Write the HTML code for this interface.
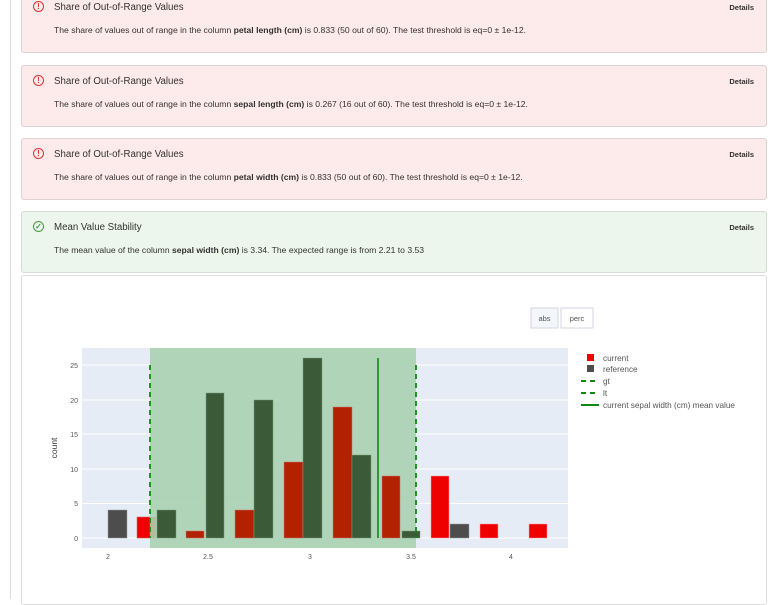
<!DOCTYPE html>
<html><head><meta charset="utf-8"><style>
*{margin:0;padding:0;box-sizing:border-box}
body{width:772px;height:599px;overflow:hidden;background:#fff;font-family:"Liberation Sans",sans-serif;position:relative;color:#333}
.vl{position:absolute;left:10px;top:0;width:1px;height:599px;background:#ddd}
.card{position:absolute;left:21px;width:746px;border:1px solid #dcd3d3;border-radius:3px}
.red{background:#fdeaea}
.grn{background:#ecf6ec;border-color:#d5dcd5}
.t{position:absolute;left:32px;font-size:9.7px;color:#333}
.b{position:absolute;left:32px;font-size:8.6px;color:#333;white-space:nowrap}
.d{position:absolute;right:12px;font-size:7.5px;font-weight:bold;color:#333}
.ic{position:absolute;left:11px;width:11px;height:11px;border:1.3px solid #d33;border-radius:50%;color:#d33;font-size:8px;font-weight:bold;text-align:center;line-height:9px}
.icg{border-color:#4a9a4a;color:#4a9a4a}
</style></head><body>
<div class="vl"></div>
<div class="card red" style="top:-5px;height:58px">
 <div class="ic" style="top:5px">!</div><div class="t" style="top:6px">Share of Out-of-Range Values</div>
 <div class="b" style="top:29px">The share of values out of range in the column <b>petal length (cm)</b> is 0.833 (50 out of 60). The test threshold is eq=0 ± 1e-12.</div>
 <div class="d" style="top:7px">Details</div></div>
<div class="card red" style="top:65px;height:62px">
 <div class="ic" style="top:9px">!</div><div class="t" style="top:10px">Share of Out-of-Range Values</div>
 <div class="b" style="top:33px">The share of values out of range in the column <b>sepal length (cm)</b> is 0.267 (16 out of 60). The test threshold is eq=0 ± 1e-12.</div>
 <div class="d" style="top:11px">Details</div></div>
<div class="card red" style="top:138px;height:62px">
 <div class="ic" style="top:9px">!</div><div class="t" style="top:10px">Share of Out-of-Range Values</div>
 <div class="b" style="top:33px">The share of values out of range in the column <b>petal width (cm)</b> is 0.833 (50 out of 60). The test threshold is eq=0 ± 1e-12.</div>
 <div class="d" style="top:11px">Details</div></div>
<div class="card grn" style="top:211px;height:62px">
 <div class="ic icg" style="top:9px">✓</div><div class="t" style="top:10px">Mean Value Stability</div>
 <div class="b" style="top:33px">The mean value of the column <b>sepal width (cm)</b> is 3.34. The expected range is from 2.21 to 3.53</div>
 <div class="d" style="top:11px">Details</div></div>
<div class="card" style="top:275px;height:330px;background:#fff;border-color:#ddd"></div>
<svg style="position:absolute;left:0;top:0" width="772" height="599" font-family="Liberation Sans, sans-serif">
 <rect x="531" y="308" width="27" height="20" fill="#f3f6fb" stroke="#ccd" stroke-width="0.8"/>
 <text x="544.5" y="321" font-size="7.5" text-anchor="middle" fill="#555">abs</text>
 <rect x="561" y="308" width="32" height="20" fill="#fff" stroke="#ccd" stroke-width="0.8"/>
 <text x="577" y="321" font-size="7.5" text-anchor="middle" fill="#555">perc</text>
 <rect x="82" y="348" width="486" height="200" fill="#e5ecf6"/>
 <g stroke="#fff" stroke-width="1">
  <line x1="82" x2="568" y1="538" y2="538"/><line x1="82" x2="568" y1="503.5" y2="503.5"/>
  <line x1="82" x2="568" y1="469" y2="469"/><line x1="82" x2="568" y1="434" y2="434"/>
  <line x1="82" x2="568" y1="400" y2="400"/><line x1="82" x2="568" y1="365" y2="365"/>
 </g>
 <g fill="#4d4d4d" stroke="#999" stroke-width="0.5">
  <rect x="108" y="510" width="19" height="28"/><rect x="450" y="524" width="19" height="14"/>
 </g>
 <g fill="#ee0000" stroke="#f99" stroke-width="0.5">
  <rect x="137" y="517" width="19" height="21"/><rect x="431" y="476" width="18" height="62"/>
  <rect x="480" y="524" width="18" height="14"/><rect x="529" y="524" width="18" height="14"/>
 </g>
 <rect x="150" y="348" width="266" height="200" fill="#a9d1b0" opacity="0.9"/>
 <g fill="#b22200" stroke="#c77" stroke-width="0.5">
  <rect x="137" y="517" width="13" height="21" fill="#ee0000"/>
  <rect x="186" y="531" width="18" height="7"/><rect x="235" y="510" width="19" height="28"/>
  <rect x="284" y="462" width="19" height="76"/><rect x="333" y="407" width="19" height="131"/>
  <rect x="382" y="476" width="18" height="62"/>
 </g>
 <g fill="#3b5a38" stroke="#7a9a7a" stroke-width="0.5">
  <rect x="157" y="510" width="19" height="28"/><rect x="206" y="393" width="18" height="145"/>
  <rect x="254" y="400" width="19" height="138"/><rect x="303" y="358" width="19" height="180"/>
  <rect x="352" y="455" width="19" height="83"/><rect x="402" y="531" width="18" height="7"/>
 </g>
 <g stroke="#118811" stroke-width="1.8" stroke-dasharray="5,4">
  <line x1="150" x2="150" y1="365" y2="538"/><line x1="416" x2="416" y1="365" y2="538"/>
 </g>
 <line x1="378" x2="378" y1="358" y2="538" stroke="#118811" stroke-width="1.6"/>
 <g font-size="7" fill="#555" text-anchor="end">
  <text x="78" y="541">0</text><text x="78" y="506">5</text><text x="78" y="472">10</text>
  <text x="78" y="437">15</text><text x="78" y="403">20</text><text x="78" y="368">25</text>
 </g>
 <g font-size="7" fill="#555" text-anchor="middle">
  <text x="108" y="559">2</text><text x="208" y="559">2.5</text><text x="310" y="559">3</text>
  <text x="411" y="559">3.5</text><text x="511" y="559">4</text>
 </g>
 <text transform="translate(57,448) rotate(-90)" font-size="8.5" fill="#333" text-anchor="middle">count</text>
 <g font-size="8.2" fill="#555">
  <rect x="587" y="354" width="7" height="7" fill="#ee0000"/><text x="603" y="361">current</text>
  <rect x="587" y="365" width="7" height="7" fill="#4d4d4d"/><text x="603" y="372">reference</text>
  <line x1="581" x2="599" y1="381" y2="381" stroke="#118811" stroke-width="2" stroke-dasharray="5,4"/><text x="603" y="384">gt</text>
  <line x1="581" x2="599" y1="393" y2="393" stroke="#118811" stroke-width="2" stroke-dasharray="5,4"/><text x="603" y="396">lt</text>
  <line x1="581" x2="599" y1="405" y2="405" stroke="#118811" stroke-width="2"/><text x="603" y="408">current sepal width (cm) mean value</text>
 </g>
</svg>
</body></html>
